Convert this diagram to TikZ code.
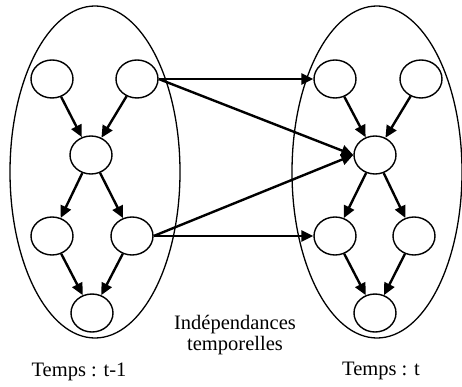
\documentclass[tikz,border=0pt]{standalone}
\usepackage{fontspec}
\setmainfont{Liberation Serif}
\usetikzlibrary{shapes.geometric,arrows.meta}
\begin{document}
\begin{tikzpicture}[x=1pt,y=-1pt,
  big/.style={draw,ellipse,line width=1.3pt,minimum width=170pt,minimum height=332pt,inner sep=0pt},
  var/.style={draw,ellipse,line width=1.4pt,minimum width=42pt,minimum height=38pt,inner sep=0pt},
  arr/.style={line width=2.4pt,-{Triangle[length=12pt,width=11pt]}},
  lab/.style={font=\fontsize{20.5}{21.5}\selectfont,align=center,inner sep=0pt}]
\useasboundingbox (0,0) rectangle (462,387);
\node[big] (L) at (95,172) {};
\node[big] (R) at (377,172) {};
% left slice
\node[var] (a1) at (52,79) {};
\node[var] (b1) at (137,79) {};
\node[var] (c1) at (91,155) {};
\node[var] (d1) at (52,236) {};
\node[var] (e1) at (132,236) {};
\node[var] (f1) at (92,313) {};
% right slice
\node[var] (a2) at (335,79) {};
\node[var] (b2) at (421,79) {};
\node[var] (c2) at (375,155) {};
\node[var] (d2) at (335,236) {};
\node[var] (e2) at (414,236) {};
\node[var] (f2) at (375,313) {};
% intra-slice arcs
\foreach \s in {1,2}{
  \draw[arr] (a\s) -- (c\s);
  \draw[arr] (b\s) -- (c\s);
  \draw[arr] (c\s) -- (d\s);
  \draw[arr] (c\s) -- (e\s);
  \draw[arr] (d\s) -- (f\s);
  \draw[arr] (e\s) -- (f\s);
}
% temporal arcs
\draw[arr] (b1.east) -- (a2.west);
\draw[arr] (b1.east) -- (c2.west);
\draw[arr] (e1.east) -- (c2.west);
\draw[arr] (e1.east) -- (d2.west);
% labels
\node[lab] (t) at (235,335) {Indépendances\\temporelles};
\node[lab] (l1) at (79,372) {Temps : t-1};
\node[lab] (l2) at (381,371) {Temps : t};
\end{tikzpicture}
\end{document}
